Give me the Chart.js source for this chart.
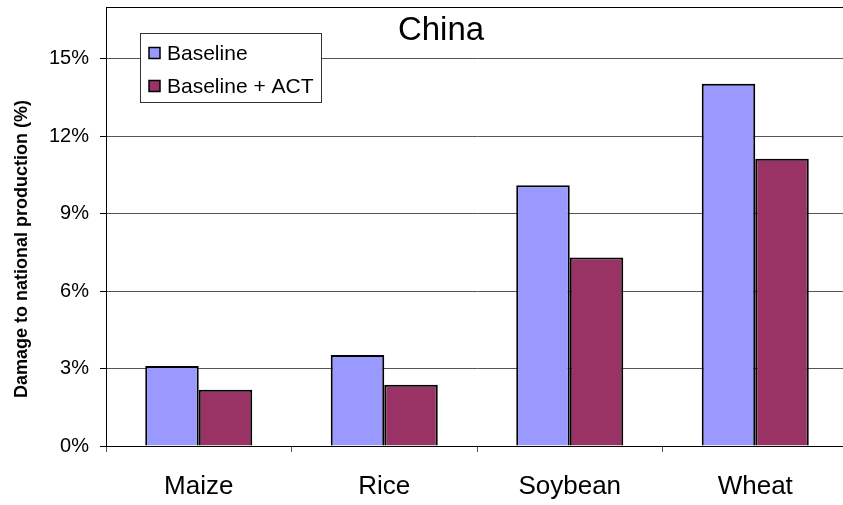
<!DOCTYPE html>
<html>
<head>
<meta charset="utf-8">
<script src="https://cdn.jsdelivr.net/npm/chart.js@4/dist/chart.umd.min.js"></script>
<style>
    html, body { margin: 0; padding: 0; background: #fff; overflow: hidden; }
    #wrap { position: relative; width: 850px; height: 505px; }
</style>
</head>
<body>
<div id="wrap"><canvas id="damageChart"></canvas></div>
<script>
// Crop damage data (percent of national production)
const crops = ['Maize', 'Rice', 'Soybean', 'Wheat'];
const baseline = [3.1, 3.52, 10.1, 14.03];
const baselineAct = [2.18, 2.37, 7.3, 11.12];
const yTicks = [0, 3, 6, 9, 12, 15];

const FONT = '"Liberation Sans", Arial, sans-serif';

// Title, top frame line, y title and boxed legend drawn inside the plot
const overlay = {
    id: 'overlay',
    afterDraw(chart) {
        const ctx = chart.ctx;
        const area = chart.chartArea;
        ctx.save();

        // top frame line
        ctx.strokeStyle = '#000';
        ctx.lineWidth = 1;
        ctx.beginPath();
        ctx.moveTo(area.left, area.top + 0.5);
        ctx.lineTo(area.right, area.top + 0.5);
        ctx.stroke();

        // title
        ctx.fillStyle = '#000';
        ctx.font = '33px ' + FONT;
        ctx.textAlign = 'center';
        ctx.textBaseline = 'alphabetic';
        ctx.fillText('China', 441, 40);

        // y axis title
        ctx.save();
        ctx.translate(27, 249);
        ctx.rotate(-Math.PI / 2);
        ctx.font = 'bold 18px ' + FONT;
        ctx.fillText('Damage to national production (%)', 0, 0);
        ctx.restore();

        // legend box
        ctx.fillStyle = '#fff';
        ctx.fillRect(140, 33, 182, 70);
        ctx.strokeStyle = '#333';
        ctx.lineWidth = 1;
        ctx.strokeRect(140.5, 33.5, 181, 69);

        ctx.font = '21px ' + FONT;
        ctx.textAlign = 'left';
        ctx.textBaseline = 'middle';
        const rows = [53, 86];
        chart.data.datasets.forEach((ds, i) => {
            const y = rows[i];
            ctx.fillStyle = ds.backgroundColor;
            ctx.fillRect(149, y - 5.5, 11, 11);
            ctx.strokeStyle = '#000';
            ctx.lineWidth = 1.5;
            ctx.strokeRect(149, y - 5.5, 11, 11);
            ctx.fillStyle = '#000';
            ctx.fillText(ds.label, 167, y + 1);
        });
        ctx.restore();
    }
};

new Chart(document.getElementById('damageChart'), {
    type: 'bar',
    data: {
        labels: crops,
        datasets: [
            {
                label: 'Baseline',
                data: baseline,
                backgroundColor: '#9999FF',
                borderColor: '#000',
                borderWidth: 2
            },
            {
                label: 'Baseline + ACT',
                data: baselineAct,
                backgroundColor: '#993366',
                borderColor: '#000',
                borderWidth: 2
            }
        ]
    },
    options: {
        responsive: true,
        maintainAspectRatio: false,
        animation: false,
        layout: { padding: { top: 7, right: 2, left: 0, bottom: 0 } },
        datasets: {
            bar: { categoryPercentage: 0.577, barPercentage: 1.0 }
        },
        plugins: {
            legend: { display: false },
            title: { display: false },
            tooltip: { enabled: false }
        },
        scales: {
            x: {
                offset: true,
                grid: {
                    offset: true,
                    drawOnChartArea: false,
                    drawTicks: true,
                    tickLength: 6,
                    color: '#555'
                },
                border: { display: true, color: '#000', width: 1 },
                ticks: {
                    color: '#000',
                    font: { family: FONT, size: 26 },
                    padding: 19
                },
                afterFit(scale) {
                    scale.height = 59;
                    scale.paddingLeft = 0;
                    scale.paddingRight = 0;
                }
            },
            y: {
                min: 0,
                max: 17,
                afterBuildTicks(scale) {
                    scale.ticks = yTicks.map(v => ({ value: v }));
                },
                grid: {
                    color: '#555',
                    tickLength: 6,
                    tickColor: '#000'
                },
                border: { display: true, color: '#000', width: 1 },
                ticks: {
                    color: '#000',
                    font: { family: FONT, size: 20 },
                    padding: 11,
                    callback: v => v + '%'
                },
                afterFit(scale) {
                    scale.width = 106;
                    scale.paddingTop = 0;
                    scale.paddingBottom = 0;
                }
            }
        }
    },
    plugins: [overlay]
});
</script>
</body>
</html>
